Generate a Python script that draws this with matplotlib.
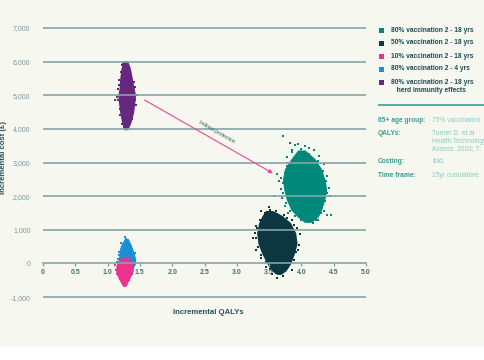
import matplotlib
matplotlib.use("Agg")
import matplotlib.pyplot as plt
from matplotlib.patches import Rectangle

# ---------------- data ----------------
series_names = ["80% vaccination 2 - 18 yrs", "50% vaccination 2 - 18 yrs",
                "10% vaccination 2 - 18 yrs", "80% vaccination 2 - 4 yrs",
                "80% vaccination 2 - 18 yrs\n   herd immunity effects"]
series_colors = ["#00897b", "#0c3640", "#e6348f", "#1b8fd3", "#66287f"]

# cloud outlines: cost levels (£) with left/right QALY edges
teal_y  = [3350, 3100, 2800, 2500, 2200, 1900, 1600, 1400, 1250]
teal_xl = [3.95, 3.85, 3.75, 3.72, 3.74, 3.78, 3.85, 3.95, 4.05]
teal_xr = [4.05, 4.20, 4.30, 4.35, 4.38, 4.35, 4.30, 4.25, 4.15]

dark_y  = [1550, 1400, 1200, 900, 600, 300, 0, -200, -300]
dark_xl = [3.45, 3.40, 3.35, 3.32, 3.34, 3.40, 3.48, 3.55, 3.62]
dark_xr = [3.55, 3.70, 3.82, 3.90, 3.92, 3.88, 3.82, 3.75, 3.68]

pink_y  = [150, 50, -100, -250, -400, -550, -650]
pink_xl = [1.22, 1.16, 1.14, 1.14, 1.17, 1.21, 1.24]
pink_xr = [1.32, 1.37, 1.39, 1.38, 1.34, 1.30, 1.28]

blue_y  = [720, 600, 450, 300, 150, 0, -150]
blue_xl = [1.27, 1.23, 1.20, 1.19, 1.18, 1.17, 1.20]
blue_xr = [1.31, 1.34, 1.37, 1.40, 1.42, 1.42, 1.38]

purple_y  = [6000, 5800, 5500, 5200, 5000, 4800, 4500, 4200, 4000]
purple_xl = [1.25, 1.22, 1.20, 1.19, 1.17, 1.18, 1.20, 1.23, 1.26]
purple_xr = [1.30, 1.34, 1.37, 1.40, 1.42, 1.41, 1.39, 1.35, 1.30]

# scattered edge points
teal_px = [3.72, 3.82, 3.90, 3.95, 4.05, 4.12, 4.20, 3.85, 3.78, 4.28, 4.35, 3.62, 3.66,
           3.68, 3.70, 4.45, 4.42, 4.46, 4.40, 4.35, 4.25, 4.18, 3.80, 3.75, 4.32, 3.58,
           3.80, 3.74, 3.71, 3.72, 3.76, 3.82, 3.90, 4.00, 4.10, 4.20, 4.30, 4.36, 4.40,
           4.38, 4.33, 4.25, 4.12, 4.00, 3.92, 3.68, 4.40, 3.77, 4.22, 3.86]
teal_py = [3780, 3580, 3520, 3550, 3480, 3420, 3380, 3300, 3150, 3200, 2950, 2650, 2450,
           2200, 1950, 2000, 2250, 1450, 1430, 1550, 1300, 1200, 1500, 1700, 1750, 2000,
           3000, 2700, 2400, 2100, 1800, 1550, 1400, 1300, 1220, 1350, 1500, 1850, 2100,
           2450, 2750, 3050, 3250, 3400, 3200, 2550, 2600, 2900, 1280, 3380]
dark_px = [3.25, 3.30, 3.38, 3.50, 3.60, 3.73, 3.85, 3.93, 3.98, 3.96, 3.92, 3.88, 3.80,
           3.72, 3.62, 3.55, 3.45, 3.38, 3.30, 3.85,
           3.43, 3.36, 3.32, 3.30, 3.33, 3.37, 3.45, 3.52, 3.60, 3.70, 3.78, 3.84, 3.89,
           3.92, 3.88, 3.78, 3.62, 3.52, 3.94, 3.28]
dark_py = [770, 1100, 1550, 1680, 1550, 1450, 1300, 1050, 880, 560, 350, 100, -100,
           -380, -420, -300, -100, 150, 400, -200,
           1500, 1300, 1050, 750, 500, 250, 50, -150, -280, -250, -120, 50, 300,
           700, 1150, 1350, 1480, 1600, 400, 900]
pink_px = [1.12, 1.13, 1.40, 1.39, 1.20, 1.30, 1.25, 1.35, 1.15, 1.38, 1.19, 1.33, 1.14]
pink_py = [-50, -200, -150, 0, -500, -520, -680, -400, -300, -300, -450, -480, 50]
blue_px = [1.27, 1.29, 1.21, 1.36, 1.17, 1.41, 1.43, 1.16, 1.22, 1.38, 1.18, 1.42]
blue_py = [780, 730, 620, 520, 350, 200, 80, 120, 500, 420, 250, 300]
purple_px = [1.12, 1.14, 1.45, 1.44, 1.16, 1.41, 1.23, 1.31, 1.27, 1.19, 1.38, 1.22, 1.33,
             1.40, 1.18, 1.20, 1.35, 1.17, 1.42, 1.16, 1.42, 1.19, 1.38, 1.25, 1.30, 1.24]
purple_py = [4850, 4950, 5000, 4700, 5200, 5400, 5900, 5850, 6000, 4600, 4300, 4150, 4100,
             5150, 5450, 5700, 5700, 5300, 5250, 4850, 4850, 4400, 4500, 4050, 4000, 5950]

y_ticks = [-1000, 0, 1000, 2000, 3000, 4000, 5000, 6000, 7000]
x_ticks = [0, 0.5, 1.0, 1.5, 2.0, 2.5, 3.0, 3.5, 4.0, 4.5, 5.0]
x_tick_labels = ["0", "0.5", "1.0", "1.5", "2.0", "2.5", "3.0", "3.5", "4.0", "4.5", "5.0"]

info_labels = ["65+ age group:", "QALYs:", "Costing:", "Time frame:"]
info_values = ["75% vaccination", "Turner D. et al\nHealth Technology\nAssess. 2003; 7:",
               "Ibid.", "15yr cumulative"]

arrow_start = (1.57, 4860)
arrow_end = (3.56, 2680)

# ---------------- figure ----------------
BG = "#f6f8f0"
GRID = "#86a3a7"
plt.rcParams['font.family'] = ['Liberation Sans', 'DejaVu Sans']

fig = plt.figure(figsize=(4.85, 3.6), dpi=100)
fig.patch.set_facecolor(BG)
fig.patches.append(Rectangle((0, 0), 1, 13 / 360, transform=fig.transFigure,
                             facecolor="white", edgecolor="none", zorder=0))

ax = fig.add_axes([43 / 485, 0.156, 323 / 485, 0.785])
ax.set_facecolor(BG)
ax.set_xlim(0, 5)
ax.set_ylim(-1200, 7200)

clouds = [
    (teal_y, teal_xl, teal_xr, teal_px, teal_py, series_colors[0]),
    (dark_y, dark_xl, dark_xr, dark_px, dark_py, series_colors[1]),
    (blue_y, blue_xl, blue_xr, blue_px, blue_py, series_colors[3]),
    (pink_y, pink_xl, pink_xr, pink_px, pink_py, series_colors[2]),
    (purple_y, purple_xl, purple_xr, purple_px, purple_py, series_colors[4]),
]
for i, (cy, cxl, cxr, px, py, col) in enumerate(clouds):
    ax.fill_betweenx(cy, cxl, cxr, color=col, lw=1.2, edgecolor=col, zorder=1 + i * 0.1)
    ax.scatter(px, py, s=3.5, marker="s", color=col, lw=0, zorder=1 + i * 0.1)

# grid on top of clouds
for yt in y_ticks:
    if yt != 0:
        ax.axhline(yt, color=GRID, lw=1.2, zorder=3)

for s in ["top", "right", "left"]:
    ax.spines[s].set_visible(False)
ax.spines["bottom"].set_position(("data", 0))
ax.spines["bottom"].set_color(GRID)
ax.spines["bottom"].set_linewidth(1.2)
ax.spines["bottom"].set_zorder(3)

ax.set_yticks(y_ticks)
ax.set_yticklabels([f"{v:,}" for v in y_ticks])
ax.tick_params(axis="y", length=0, pad=9, labelsize=5.0, labelcolor="#7a969b")
ax.set_xticks(x_ticks)
ax.set_xticklabels(x_tick_labels, fontweight="bold")
ax.tick_params(axis="x", direction="out", length=2.5, width=1, color=GRID,
               pad=1.5, labelsize=5, labelcolor="#46707a")

# arrow
ax.annotate("", xy=arrow_end, xytext=arrow_start,
            arrowprops=dict(arrowstyle="-|>", color="#e8479a", lw=0.8,
                            mutation_scale=6, shrinkA=0, shrinkB=0), zorder=4)
ax.text(2.69, 3900, "Indirect protection", rotation=-30, fontsize=3.6,
        color="#2a5560", ha="center", va="center", zorder=4)

# axis labels
fig.text(208 / 485, 1 - 312 / 360, "Incremental QALYs", fontsize=5.6, fontweight="bold",
         color="#27535d", ha="center", va="center")
fig.text(4 / 485, 1 - 158 / 360, "Incremental cost (£)", fontsize=5.6, fontweight="bold",
         color="#27535d", ha="center", va="center", rotation=90)

# legend
leg_rows = [30, 43, 56, 69, 82]
for name, col, yp in zip(series_names, series_colors, leg_rows):
    fig.patches.append(Rectangle((379 / 485, 1 - (yp + 2.5) / 360), 5 / 485, 5 / 360,
                                 transform=fig.transFigure, facecolor=col, edgecolor="none"))
    multi = "\n" in name
    fig.text(391 / 485, 1 - (yp - 3.5 if multi else yp) / 360, name, fontsize=4.8,
             fontweight="bold", color="#1f4a55", ha="left",
             va="top" if multi else "center", linespacing=1.25)

# separator line
fig.add_artist(plt.Line2D([379 / 485, 1.0], [1 - 105 / 360] * 2, transform=fig.transFigure,
                          color="#4fb0a6", lw=1.4))

info_rows = [121, 133, 162, 175]
for lab, val, yp in zip(info_labels, info_values, info_rows):
    multi = "\n" in val
    ypos = 1 - (yp - 3.5 if multi else yp) / 360
    fig.text(378 / 485, ypos, lab, fontsize=4.8, fontweight="bold",
             color="#3a9c92", ha="left", va="top" if multi else "center")
    fig.text(432 / 485, ypos, val, fontsize=4.8, color="#86cbc2",
             ha="left", va="top" if multi else "center", linespacing=1.2)

fig.savefig("out.png", dpi=100, facecolor=fig.get_facecolor())
